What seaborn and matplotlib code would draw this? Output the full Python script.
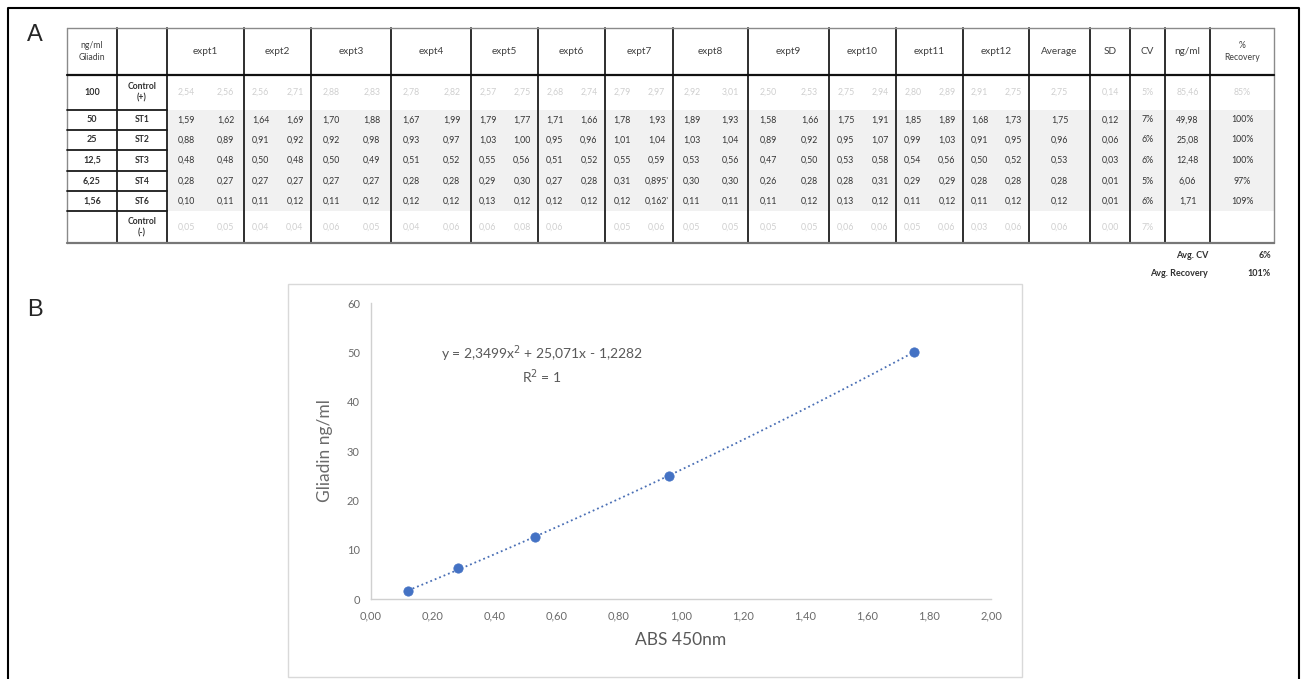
import matplotlib
matplotlib.use("Agg")
import matplotlib.pyplot as plt
import seaborn as sns
import pandas as pd
from matplotlib.patches import Rectangle
from matplotlib.ticker import FuncFormatter

# ---------------- data (table A) ----------------
concentrations = ["100", "50", "25", "12,5", "6,25", "1,56", ""]
row_labels = ["Control\n(+)", "ST1", "ST2", "ST3", "ST4", "ST6", "Control\n(-)"]
expt_names = ["expt1", "expt2", "expt3", "expt4", "expt5", "expt6",
              "expt7", "expt8", "expt9", "expt10", "expt11", "expt12"]
summary_names = ["Average", "SD", "CV", "ng/ml", "%\nRecovery"]

ctrl_pos = ["2,54", "2,56", "2,56", "2,71", "2,88", "2,83", "2,78", "2,82",
            "2,57", "2,75", "2,68", "2,74", "2,79", "2,97", "2,92", "3,01",
            "2,50", "2,53", "2,75", "2,94", "2,80", "2,89", "2,91", "2,75"]
st1 = ["1,59", "1,62", "1,64", "1,69", "1,70", "1,88", "1,67", "1,99",
       "1,79", "1,77", "1,71", "1,66", "1,78", "1,93", "1,89", "1,93",
       "1,58", "1,66", "1,75", "1,91", "1,85", "1,89", "1,68", "1,73"]
st2 = ["0,88", "0,89", "0,91", "0,92", "0,92", "0,98", "0,93", "0,97",
       "1,03", "1,00", "0,95", "0,96", "1,01", "1,04", "1,03", "1,04",
       "0,89", "0,92", "0,95", "1,07", "0,99", "1,03", "0,91", "0,95"]
st3 = ["0,48", "0,48", "0,50", "0,48", "0,50", "0,49", "0,51", "0,52",
       "0,55", "0,56", "0,51", "0,52", "0,55", "0,59", "0,53", "0,56",
       "0,47", "0,50", "0,53", "0,58", "0,54", "0,56", "0,50", "0,52"]
st4 = ["0,28", "0,27", "0,27", "0,27", "0,27", "0,27", "0,28", "0,28",
       "0,29", "0,30", "0,27", "0,28", "0,31", "0,895'", "0,30", "0,30",
       "0,26", "0,28", "0,28", "0,31", "0,29", "0,29", "0,28", "0,28"]
st6 = ["0,10", "0,11", "0,11", "0,12", "0,11", "0,12", "0,12", "0,12",
       "0,13", "0,12", "0,12", "0,12", "0,12", "0,162'", "0,11", "0,11",
       "0,11", "0,12", "0,13", "0,12", "0,11", "0,12", "0,11", "0,12"]
ctrl_neg = ["0,05", "0,05", "0,04", "0,04", "0,06", "0,05", "0,04", "0,06",
            "0,06", "0,08", "0,06", "", "0,05", "0,06", "0,05", "0,05",
            "0,05", "0,05", "0,06", "0,06", "0,05", "0,06", "0,03", "0,06"]
average = ["2,75", "1,75", "0,96", "0,53", "0,28", "0,12", "0,06"]
sd = ["0,14", "0,12", "0,06", "0,03", "0,01", "0,01", "0,00"]
cv = ["5%", "7%", "6%", "6%", "5%", "6%", "7%"]
ng_ml = ["85,46", "49,98", "25,08", "12,48", "6,06", "1,71", ""]
recovery = ["85%", "100%", "100%", "100%", "97%", "109%", ""]
avg_cv = "6%"
avg_recovery = "101%"

# ---------------- data (standard curve B) ----------------
abs_450 = [0.12, 0.28, 0.53, 0.96, 1.75]
gliadin = [1.56, 6.25, 12.5, 25, 50]
equation = "y = 2,3499x$^2$ + 25,071x - 1,2282"
r_squared = "R$^2$ = 1"

# ---------------- figure ----------------
sns.set_theme(style="white")
plt.rcParams["font.family"] = ["Lato", "DejaVu Sans"]

W, H = 1305, 679
fig = plt.figure(figsize=(W / 100, H / 100), dpi=100)
bg = fig.add_axes([0, 0, 1, 1])
bg.set_xlim(0, W)
bg.set_ylim(H, 0)
bg.axis("off")

# outer frame + panel letters
bg.plot([8, 8, 1299, 1299], [H, 8, 8, H], color="black", lw=1.5)
bg.text(35, 35, "A", fontsize=17, ha="center", va="center", family="Liberation Sans")
bg.text(35, 310, "B", fontsize=17, ha="center", va="center", family="Liberation Sans")

# table geometry (pixels)
col_edges = [67, 117, 167, 244, 311, 391, 471, 538, 605, 673, 748, 829,
             896, 963, 1029, 1090, 1130, 1165, 1210, 1274]
row_edges = [28, 75, 110, 130, 150, 171, 191, 211, 243]

# shaded standard rows
bg.add_patch(Rectangle((167, 110), 1274 - 167, 101, color="#f1f1f1", lw=0))

# header
headers = ["ng/ml\nGliadin", ""] + expt_names + summary_names
hy = (row_edges[0] + row_edges[1]) / 2
for i, h in enumerate(headers):
    cx = (col_edges[i] + col_edges[i + 1]) / 2
    fs = 6.2 if i in (0, 18) else 7.2
    bg.text(cx, hy, h, ha="center", va="center", fontsize=fs, color="#404040",
            linespacing=1.5)

rows = [ctrl_pos, st1, st2, st3, st4, st6, ctrl_neg]
for r, vals in enumerate(rows):
    cy = (row_edges[r + 1] + row_edges[r + 2]) / 2
    faint = r in (0, 6)
    col = "#cfcfcf" if faint else "#333333"
    bg.text((col_edges[0] + col_edges[1]) / 2, cy, concentrations[r], ha="center",
            va="center", fontsize=6.5, fontweight="bold", color="#303030")
    bg.text((col_edges[1] + col_edges[2]) / 2, cy, row_labels[r], ha="center",
            va="center", fontsize=6.2, fontweight="bold", color="#303030",
            linespacing=1.4)
    for e in range(12):
        x0, x1 = col_edges[2 + e], col_edges[3 + e]
        w = x1 - x0
        bg.text(x0 + 0.25 * w, cy, vals[2 * e], ha="center", va="center",
                fontsize=6.3, color=col)
        bg.text(x0 + 0.76 * w, cy, vals[2 * e + 1], ha="center", va="center",
                fontsize=6.3, color=col)
    summ = [average[r], sd[r], cv[r], ng_ml[r], recovery[r]]
    for k, s in enumerate(summ):
        cx = (col_edges[14 + k] + col_edges[15 + k]) / 2
        bg.text(cx, cy, s, ha="center", va="center", fontsize=6.3, color=col)

# table lines
for i, x in enumerate(col_edges):
    outer = i in (0, len(col_edges) - 1)
    bg.plot([x, x], [row_edges[0], row_edges[-1]],
            color="#8a8a8a" if outer else "#2e2e2e", lw=1.0 if outer else 1.4)
bg.plot([67, 1274], [28, 28], color="#8a8a8a", lw=1.0)
bg.plot([67, 1274], [75, 75], color="#111111", lw=1.6)
bg.plot([67, 1274], [243, 243], color="#777777", lw=1.6)
for y in row_edges[2:-1]:
    bg.plot([67, 167], [y, y], color="#1a1a1a", lw=1.3)

# footer
for y, lab, val in [(255, "Avg. CV", avg_cv), (274, "Avg. Recovery", avg_recovery)]:
    bg.text(1208, y, lab, ha="right", va="center", fontsize=6.5,
            fontweight="bold", color="#303030")
    bg.text(1271, y, val, ha="right", va="center", fontsize=6.5,
            fontweight="bold", color="#303030")

# chart frame
bg.add_patch(Rectangle((288, 284), 1022 - 288, 677 - 284, fill=False,
                       edgecolor="#d9d9d9", lw=1.0))

# ---------------- standard curve ----------------
curve = pd.DataFrame({"abs": abs_450, "gliadin": gliadin})
ax = fig.add_axes([371 / W, (H - 599) / H, 620 / W, 296 / H])
ax.set_facecolor("none")
sns.regplot(data=curve, x="abs", y="gliadin", order=2, ci=None, scatter=False,
            ax=ax, line_kws=dict(color="#4a6fb5", ls=":", lw=1.3))
sns.scatterplot(data=curve, x="abs", y="gliadin", ax=ax, color="#4472C4",
                s=45, edgecolor="#4472C4", zorder=3)
ax.set_xlim(0, 2)
ax.set_ylim(0, 60)
ax.set_xticks([0, 0.2, 0.4, 0.6, 0.8, 1.0, 1.2, 1.4, 1.6, 1.8, 2.0])
ax.set_yticks([0, 10, 20, 30, 40, 50, 60])
ax.xaxis.set_major_formatter(FuncFormatter(lambda v, p: f"{v:.2f}".replace(".", ",")))
ax.tick_params(length=0, labelsize=8, labelcolor="#6b6b6b", pad=8)
for s in ("top", "right"):
    ax.spines[s].set_visible(False)
for s in ("left", "bottom"):
    ax.spines[s].set_color("#d0d0d0")
    ax.spines[s].set_linewidth(1.0)
ax.set_xlabel("ABS 450nm", fontsize=12.5, color="#595959", labelpad=8)
ax.set_ylabel("Gliadin ng/ml", fontsize=12.5, color="#6b6b6b", labelpad=10)
ax.text(0.55, 49.8, equation, ha="center", va="center", fontsize=10, color="#595959")
ax.text(0.55, 45.0, r_squared, ha="center", va="center", fontsize=10, color="#595959")

fig.savefig("out.png", dpi=100)
